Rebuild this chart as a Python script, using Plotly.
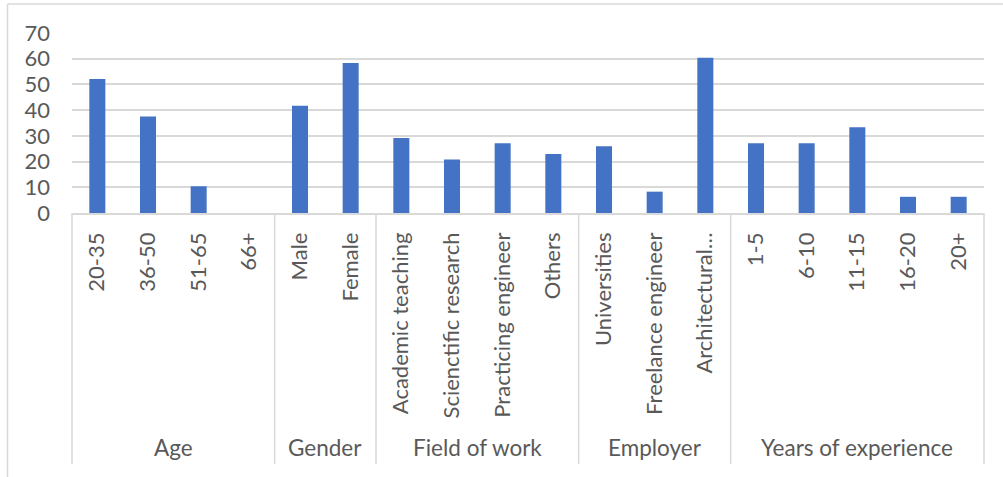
import plotly.graph_objects as go

groups = ["Age", "Gender", "Field of work", "Employer", "Years of experience"]
group_sizes = [4, 2, 4, 3, 5]
categories = ["20-35", "36-50", "51-65", "66+",
              "Male", "Female",
              "Academic teaching", "Scienctific research", "Practicing engineer", "Others",
              "Universities", "Freelance engineer", "Architectural…",
              "1-5", "6-10", "11-15", "16-20", "20+"]
values = [52.1, 37.5, 10.4, 0,
          41.7, 58.3,
          29.2, 20.8, 27.1, 22.9,
          26.0, 8.3, 60.4,
          27.1, 27.1, 33.3, 6.3, 6.3]
y_ticks = [0, 10, 20, 30, 40, 50, 60, 70]

FONT = "Lato"
TXT = "#595959"
GRID = "#d9d9d9"

W, H = 1003, 477
ML, MR, MT, MB = 72, 19, 33, 264
PH = H - MT - MB
PW = W - ML - MR


def py(y):
    return (H - MB - y) / PH


def px(x):
    return (x - ML) / PW


fig = go.Figure(go.Bar(x=categories, y=values, marker_color="#4472C4",
                       marker_line_width=0))

n = len(categories)
shapes = []
annotations = []
start = 0
bounds = [0]
for g, s in zip(groups, group_sizes):
    annotations.append(dict(x=(start + s / 2) / n, y=py(448), xref="paper", yref="paper",
                            text=g, showarrow=False, xanchor="center", yanchor="middle",
                            font=dict(family=FONT, size=22.5, color=TXT)))
    start += s
    bounds.append(start)
for b in bounds:
    shapes.append(dict(type="line", xref="paper", yref="paper", x0=b / n, x1=b / n,
                       y0=0, y1=py(464), line=dict(color=GRID, width=1.5)))

# chart border (left and top visible)
shapes.append(dict(type="line", xref="paper", yref="paper", x0=px(7.5), x1=px(7.5),
                   y0=py(4), y1=py(480), line=dict(color=GRID, width=1.5)))
shapes.append(dict(type="line", xref="paper", yref="paper", x0=px(7.5), x1=px(1005),
                   y0=py(4), y1=py(4), line=dict(color=GRID, width=1.5)))

fig.update_layout(
    width=W, height=H,
    margin=dict(l=ML, r=MR, t=MT, b=MB, pad=0),
    paper_bgcolor="white", plot_bgcolor="white",
    bargap=0.684,
    showlegend=False,
    shapes=shapes,
    annotations=annotations,
    font=dict(family=FONT, color=TXT),
    xaxis=dict(type="category", range=[-0.5, n - 0.5], tickangle=-90,
               showline=True, linecolor=GRID, linewidth=1.5, showgrid=False,
               ticks="", ticklabelstandoff=9,
               tickfont=dict(family=FONT, size=22, color=TXT)),
    yaxis=dict(range=[0, 70], tickvals=y_ticks, showgrid=True, gridcolor=GRID,
               gridwidth=1.5, zeroline=False, showline=False, ticks="",
               ticklabelstandoff=21,
               tickfont=dict(family=FONT, size=22, color=TXT)),
)

fig.write_html("out.html")
